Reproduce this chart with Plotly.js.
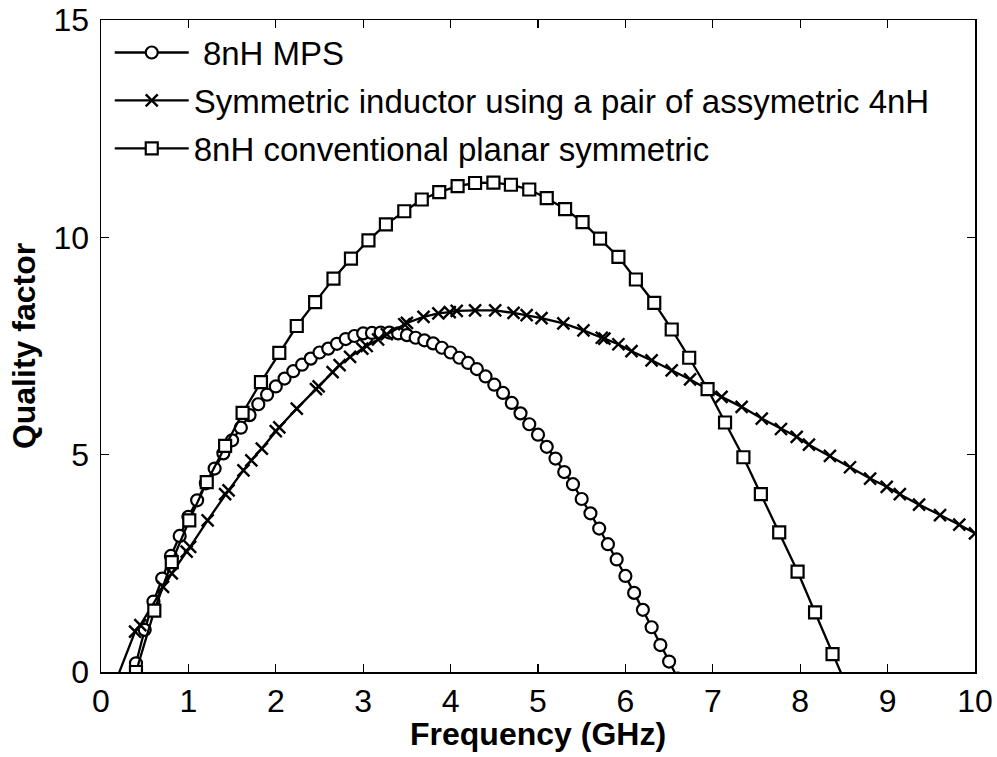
<!DOCTYPE html>
<html>
<head>
<meta charset="utf-8">
<script src="https://cdn.plot.ly/plotly-3.0.1.min.js"></script>
<style>html,body{margin:0;padding:0;background:#fff;}#chart{width:997px;height:757px;}</style>
</head>
<body>
<div id="chart"></div>
<script>
// 8nH MPS
var mpsFreq = [0.4,0.5,0.6,0.7,0.8,0.9,1.0,1.1,1.2,1.3,1.4,1.5,1.6,1.7,1.8,1.9,2.0,2.1,2.2,2.3,2.4,2.5,2.6,2.7,2.8,2.9,3.0,3.1,3.2,3.3,3.4,3.5,3.6,3.7,3.8,3.9,4.0,4.1,4.2,4.3,4.4,4.5,4.6,4.7,4.8,4.9,5.0,5.1,5.2,5.3,5.4,5.5,5.6,5.7,5.8,5.9,6.0,6.1,6.2,6.3,6.4,6.5,6.6];
var mpsQ = [0.20,0.97,1.62,2.15,2.67,3.13,3.57,3.95,4.34,4.68,5.03,5.33,5.62,5.91,6.16,6.38,6.57,6.75,6.92,7.07,7.21,7.35,7.44,7.55,7.66,7.73,7.79,7.80,7.81,7.81,7.79,7.75,7.69,7.63,7.56,7.46,7.35,7.23,7.11,6.97,6.80,6.61,6.42,6.19,5.95,5.70,5.46,5.18,4.91,4.60,4.32,3.98,3.65,3.30,2.94,2.59,2.21,1.82,1.43,1.03,0.62,0.24,-0.15];

// Symmetric inductor using a pair of assymetric 4nH
var symFreq = [0.1,0.39,0.45,0.71,0.81,0.98,1.02,1.22,1.42,1.46,1.63,1.72,1.84,2.00,2.04,2.24,2.46,2.49,2.65,2.73,2.85,2.99,3.04,3.17,3.27,3.47,3.50,3.69,3.86,3.99,4.07,4.28,4.51,4.72,4.87,5.04,5.29,5.52,5.73,5.76,5.92,6.07,6.30,6.53,6.74,7.10,7.33,7.56,7.78,7.96,8.10,8.34,8.57,8.80,8.99,9.14,9.36,9.60,9.82,10.0];
var symQ = [-0.57,0.93,1.08,1.96,2.27,2.77,2.88,3.49,4.09,4.18,4.64,4.87,5.14,5.54,5.63,6.06,6.51,6.57,6.90,7.06,7.25,7.44,7.50,7.65,7.77,8.00,8.03,8.17,8.25,8.28,8.31,8.32,8.32,8.26,8.21,8.14,8.02,7.86,7.69,7.67,7.54,7.38,7.17,6.94,6.73,6.33,6.10,5.83,5.59,5.41,5.23,4.97,4.71,4.45,4.26,4.09,3.85,3.61,3.39,3.19];

// 8nH conventional planar symmetric
var convFreq = [0.40,0.61,0.81,1.01,1.21,1.42,1.62,1.83,2.04,2.24,2.45,2.66,2.86,3.06,3.26,3.47,3.67,3.87,4.08,4.28,4.49,4.69,4.90,5.10,5.31,5.51,5.71,5.92,6.12,6.33,6.53,6.73,6.94,7.14,7.35,7.55,7.76,7.97,8.17,8.37,8.58];
var convQ = [0.00,1.41,2.53,3.49,4.37,5.20,5.96,6.67,7.34,7.96,8.51,9.05,9.51,9.93,10.30,10.60,10.87,11.04,11.18,11.25,11.26,11.21,11.10,10.90,10.65,10.35,9.97,9.55,9.03,8.49,7.88,7.23,6.51,5.74,4.94,4.09,3.21,2.31,1.37,0.41,-0.55];

var seriesNames = ['\u00a08nH MPS', 'Symmetric inductor using a pair of assymetric 4nH', '8nH conventional planar symmetric'];
var xTickVals = [0,1,2,3,4,5,6,7,8,9,10];
var yTickVals = [0,5,10,15];
var xTitle = 'Frequency (GHz)';
var yTitle = 'Quality factor';

var FONT = 'Liberation Sans, Arial, Helvetica, sans-serif';

var traces = [
  {x: mpsFreq, y: mpsQ, name: seriesNames[0], legendgroup: 'a', mode: 'lines+markers', type: 'scatter',
   line: {color: '#000', width: 2.3},
   marker: {symbol: 'circle', size: 12, color: '#fff', line: {color: '#000', width: 2.2}}},
  {x: symFreq, y: symQ, name: seriesNames[1], legendgroup: 'b', mode: 'lines+markers', type: 'scatter',
   line: {color: '#000', width: 2.3},
   marker: {symbol: 'x-thin-open', size: 12, color: '#000', line: {color: '#000', width: 2.4}}},
  {x: convFreq, y: convQ, name: seriesNames[2], legendgroup: 'c', mode: 'lines+markers', type: 'scatter',
   line: {color: '#000', width: 2.3},
   marker: {symbol: 'square', size: 12, color: '#fff', line: {color: '#000', width: 2.2}}}
];

var axisCommon = {
  showline: true, linecolor: '#000', linewidth: 1.5, mirror: 'allticks',
  ticks: 'inside', ticklen: 8, tickwidth: 1.2, tickcolor: '#000',
  showgrid: false, zeroline: false,
  tickfont: {family: FONT, size: 32, color: '#000'}
};

var layout = {
  width: 997, height: 757,
  margin: {l: 101, r: 22, t: 20, b: 85},
  paper_bgcolor: '#fff', plot_bgcolor: '#fff',
  font: {family: FONT, color: '#000'},
  showlegend: true,
  legend: {x: 0.01, y: 0.993, xanchor: 'left', yanchor: 'top', bgcolor: 'rgba(0,0,0,0)', borderwidth: 0,
           font: {family: FONT, size: 33, color: '#000'}, itemwidth: 74, tracegroupgap: 2},
  xaxis: Object.assign({}, axisCommon, {
    range: [0, 10], tickvals: xTickVals, ticktext: xTickVals.map(String)
  }),
  yaxis: Object.assign({}, axisCommon, {
    range: [0, 15], tickvals: yTickVals, ticktext: yTickVals.map(String), ticklabelstandoff: 4,
    title: {text: '<b>' + yTitle + '</b>', font: {family: FONT, size: 32, color: '#000'}, standoff: 8}
  }),
  annotations: [
    {text: '<b>' + xTitle + '</b>', xref: 'paper', yref: 'paper', x: 0.5, y: -0.095,
     xanchor: 'center', yanchor: 'middle', showarrow: false,
     font: {family: FONT, size: 32, color: '#000'}}
  ]
};

Plotly.newPlot('chart', traces, layout, {displayModeBar: false, staticPlot: true});
</script>
</body>
</html>
